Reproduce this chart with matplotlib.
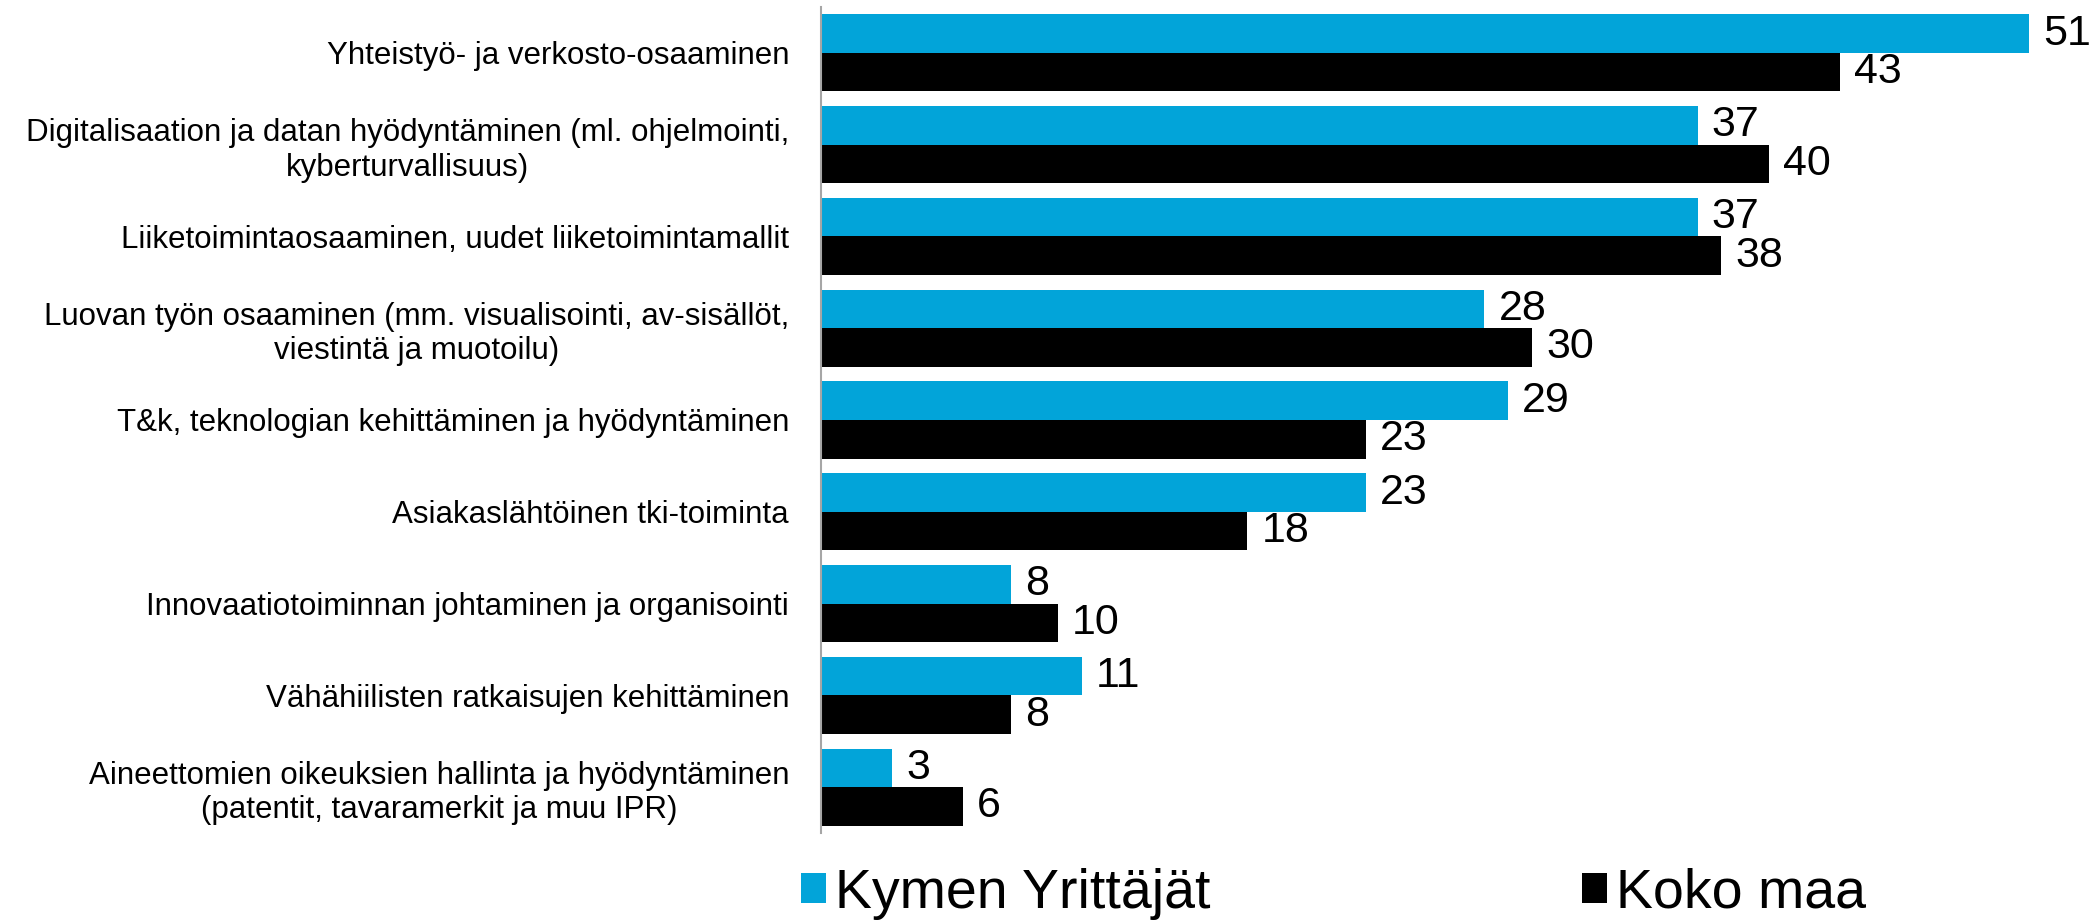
import matplotlib
matplotlib.use("Agg")
import matplotlib.pyplot as plt
from matplotlib.patches import Patch
import numpy as np

categories = [
    "Yhteistyö- ja verkosto-osaaminen",
    "Digitalisaation ja datan hyödyntäminen (ml. ohjelmointi,\nkyberturvallisuus)",
    "Liiketoimintaosaaminen, uudet liiketoimintamallit",
    "Luovan työn osaaminen (mm. visualisointi, av-sisällöt,\nviestintä ja muotoilu)",
    "T&k, teknologian kehittäminen ja hyödyntäminen",
    "Asiakaslähtöinen tki-toiminta",
    "Innovaatiotoiminnan johtaminen ja organisointi",
    "Vähähiilisten ratkaisujen kehittäminen",
    "Aineettomien oikeuksien hallinta ja hyödyntäminen\n(patentit, tavaramerkit ja muu IPR)",
]
kymen = [51, 37, 37, 28, 29, 23, 8, 11, 3]
koko_maa = [43, 40, 38, 30, 23, 18, 10, 8, 6]
series_names = ["Kymen Yrittäjät", "Koko maa"]

BLUE = "#02A4D9"
BLACK = "#000000"
plt.rcParams["font.family"] = ["Liberation Sans", "DejaVu Sans"]

fig = plt.figure(figsize=(21, 9.24), dpi=100)
ax = fig.add_axes([821 / 2100, 1 - 833 / 924, (2079 - 821) / 2100, 826 / 924])

y = np.arange(len(categories))
h = 0.42
b1 = ax.barh(y - h / 2, kymen, height=h, color=BLUE)
b2 = ax.barh(y + h / 2, koko_maa, height=h, color=BLACK)

for bars, vals in ((b1, kymen), (b2, koko_maa)):
    for rect, v in zip(bars, vals):
        ax.text(rect.get_width() + 0.6, rect.get_y() + rect.get_height() / 2, str(v),
                ha="left", va="center", fontsize=31, color="black")

ax.set_xlim(0, 53.1)
ax.set_ylim(len(categories) - 0.5, -0.5)
ax.set_yticks(y)
ax.set_yticklabels(categories, fontsize=22.5, multialignment="center")
ax.tick_params(axis="y", length=0, pad=23)
ax.set_xticks([])
for s in ("top", "right", "bottom"):
    ax.spines[s].set_visible(False)
ax.spines["left"].set_color("#A6A6A6")
ax.spines["left"].set_linewidth(1.5)

handles = [Patch(facecolor=BLUE), Patch(facecolor=BLACK)]
fig.legend(handles, series_names, loc="center", bbox_to_anchor=(0.635, 1 - 894 / 924),
           ncol=2, frameon=False, fontsize=40, handlelength=0.45, handleheight=0.45,
           handletextpad=0.15, columnspacing=6.7)

fig.savefig("out.png", dpi=100)
